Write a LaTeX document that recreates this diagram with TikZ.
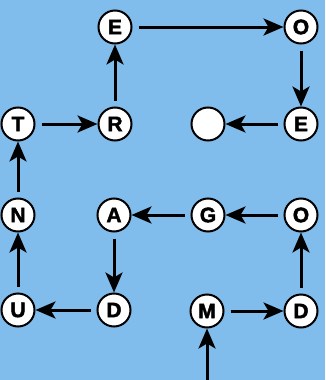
\documentclass[tikz,border=0pt]{standalone}
\usepackage{fontspec}
\setmainfont{Liberation Sans}
\newfontfamily\heavy[FakeBold=2]{Liberation Sans Bold}
\usetikzlibrary{arrows.meta}
\definecolor{bgblue}{RGB}{128,189,236}
\tikzset{
  letter/.style={circle,draw=black,line width=2pt,fill=white,minimum size=33pt,inner sep=0pt,font=\fontsize{21}{21}\heavy},
  conn/.style={line width=3pt,-{Stealth[length=20pt,width=17pt,inset=5pt]},shorten <=6pt,shorten >=0pt}
}
\begin{document}
\begin{tikzpicture}[x=1pt,y=-1pt]
\fill[bgblue] (0,0) rectangle (325,380);
\useasboundingbox (0,0) rectangle (325,380);
\node[letter] (e1) at (115,27) {E};
\node[letter] (o1) at (301,27) {O};
\node[letter] (t) at (18,124) {T};
\node[letter] (r) at (115,124) {R};
\node[letter] (blank) at (208,124) {};
\node[letter] (e2) at (301,124) {E};
\node[letter] (n) at (18,215) {N};
\node[letter] (a) at (114,215) {A};
\node[letter] (g) at (208,215) {G};
\node[letter] (o2) at (301,215) {O};
\node[letter] (u) at (18,310) {U};
\node[letter] (d1) at (114,310) {D};
\node[letter] (m) at (207,311) {M};
\node[letter] (d2) at (301,311) {D};
\coordinate (start) at (207,380);
\draw[conn,shorten <=0pt] (start) -- (m);
\draw[conn] (m) -- (d2);
\draw[conn] (d2) -- (o2);
\draw[conn] (o2) -- (g);
\draw[conn] (g) -- (a);
\draw[conn] (a) -- (d1);
\draw[conn] (d1) -- (u);
\draw[conn] (u) -- (n);
\draw[conn] (n) -- (t);
\draw[conn] (t) -- (r);
\draw[conn] (r) -- (e1);
\draw[conn] (e1) -- (o1);
\draw[conn] (o1) -- (e2);
\draw[conn] (e2) -- (blank);
\end{tikzpicture}
\end{document}
